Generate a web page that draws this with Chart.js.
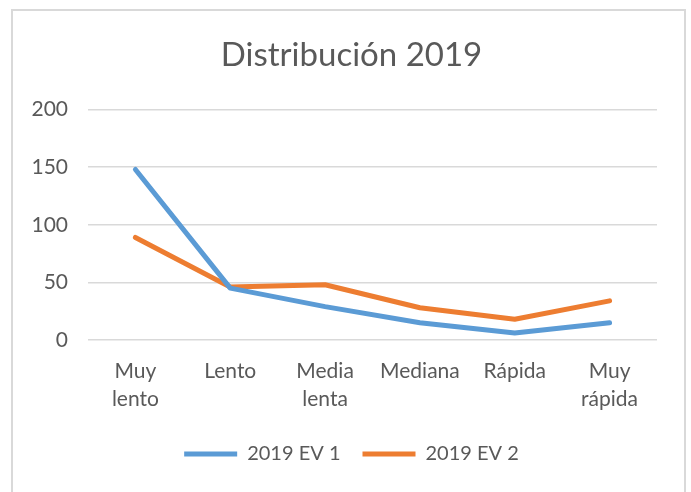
<!DOCTYPE html>
<html>
<head>
<meta charset="utf-8">
<script src="https://cdn.jsdelivr.net/npm/chart.js@4"></script>
<style>
html,body{margin:0;padding:0;background:#fff;}
#wrap{position:relative;width:691px;height:492px;}
#frame{position:absolute;left:11px;top:9px;width:675px;height:486px;border:2px solid #d9d9d9;box-sizing:border-box;pointer-events:none;}
canvas{position:absolute;left:0;top:0;}
</style>
</head>
<body>
<div id="wrap">
<canvas id="c" width="691" height="492"></canvas>
<div id="frame"></div>
</div>
<script>
const categories = [["Muy","lento"], "Lento", ["Media","lenta"], "Mediana", "Rápida", ["Muy","rápida"]];
const seriesNames = ["2019 EV 1", "2019 EV 2"];
const ev1 = [148, 45, 29, 15, 6, 15];
const ev2 = [89, 46, 48, 28, 18, 34];
const yTicks = [0, 50, 100, 150, 200];

const FONT = "Lato, 'Open Sans', sans-serif";
const TXT = "#595959";

new Chart(document.getElementById('c'), {
  type: 'line',
  data: {
    labels: categories,
    datasets: [
      {label: seriesNames[0], data: ev1, borderColor: '#5B9BD5', backgroundColor: '#5B9BD5', borderWidth: 5, pointRadius: 0, tension: 0, borderCapStyle: 'round', borderJoinStyle: 'round'},
      {label: seriesNames[1], data: ev2, borderColor: '#ED7D31', backgroundColor: '#ED7D31', borderWidth: 5, pointRadius: 0, tension: 0, borderCapStyle: 'round', borderJoinStyle: 'round'}
    ]
  },
  options: {
    responsive: false,
    animation: false,
    layout: {padding: {left: 12, right: 0, top: 0, bottom: 18}},
    plugins: {
      title: {display: true, text: 'Distribución 2019', color: TXT, font: {family: FONT, size: 33, weight: 'normal'}, padding: {top: 36, bottom: 34}},
      legend: {
        position: 'bottom',
        labels: {usePointStyle: true, pointStyle: 'line', pointStyleWidth: 53, color: TXT, font: {family: FONT, size: 20}, padding: 22, boxHeight: 20}
      },
      tooltip: {enabled: false}
    },
    scales: {
      x: {
        offset: true,
        grid: {display: false, drawTicks: false},
        border: {display: false},
        ticks: {color: TXT, font: {family: FONT, size: 21, lineHeight: 1.33}, padding: 17, maxRotation: 0, autoSkip: false},
        afterFit: s => { s.height = 82; }
      },
      y: {
        min: 0, max: 200,
        afterBuildTicks: s => { s.ticks = yTicks.map(v => ({value: v})); },
        grid: {color: '#d9d9d9', lineWidth: 1.5, drawTicks: false},
        border: {display: false},
        ticks: {color: TXT, font: {family: FONT, size: 21}, padding: 20},
        afterFit: s => { s.width = 76; }
      },
      yr: {
        type: 'linear', position: 'right', display: true,
        grid: {display: false, drawTicks: false},
        border: {display: false},
        ticks: {display: false},
        afterFit: s => { s.width = 34; }
      }
    }
  }
});
</script>
</body>
</html>
